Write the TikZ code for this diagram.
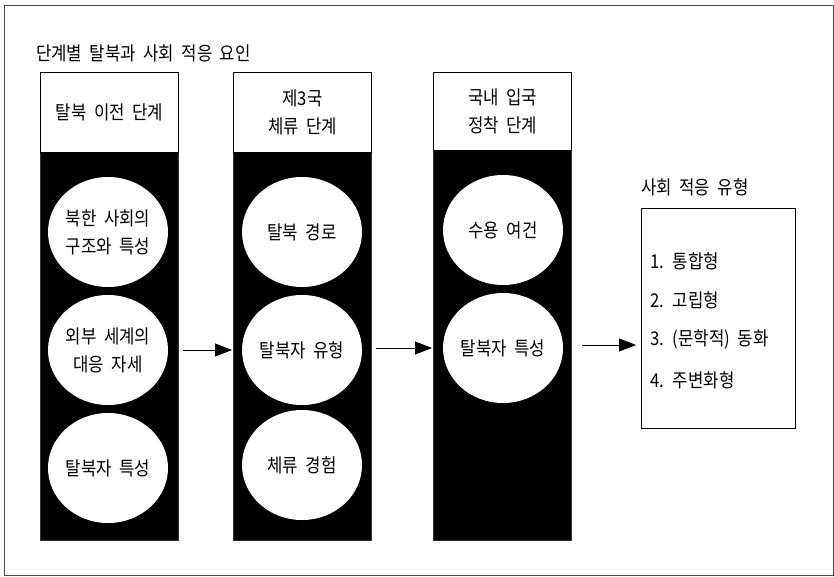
\documentclass[tikz,border=0pt]{standalone}
\usepackage{fontspec}
\setmainfont[FakeStretch=0.88, WordSpace=2]{Noto Sans CJK KR}
\usetikzlibrary{arrows.meta,shapes.geometric}
\tikzset{
  frame/.style={draw=black!70, line width=0.8pt},
  colbox/.style={fill=black, draw=black!80, line width=0.6pt, anchor=north west, minimum width=138pt, inner sep=0pt},
  headbox/.style={draw=black, fill=white, line width=1.2pt, anchor=north west, minimum width=138pt, minimum height=80pt, align=center, inner sep=0pt},
  oval/.style={ellipse, fill=white, minimum width=120pt, minimum height=110pt, inner sep=0pt, align=center},
  resbox/.style={draw=black, line width=1.2pt, anchor=north west, minimum width=154pt, minimum height=220pt, inner sep=0pt},
  arr/.style={-{Triangle[length=17pt,width=13pt]}, line width=0.8pt, shorten <=4pt, shorten >=1pt},
  txt/.style={inner sep=0pt, anchor=west}
}
\begin{document}
\begin{tikzpicture}[x=1pt,y=-1pt, font=\fontsize{19}{28}\selectfont]
\useasboundingbox (0,0) rectangle (834,576);
\draw[frame] (4,5) rectangle (833,575);
\node[txt] (title) at (36,53) {단계별 탈북과 사회 적응 요인};
% columns
\node[colbox, minimum height=388pt] (b1) at (40,152) {};
\node[colbox, minimum height=388pt] (b2) at (233,152) {};
\node[colbox, minimum height=390pt] (b3) at (433,150) {};
\node[headbox] (h1) at (40,72) {탈북 이전 단계};
\node[headbox] (h2) at (233,72) {제3국\\체류 단계};
\node[headbox, minimum height=78pt] (h3) at (433,72) {국내 입국\\정착 단계};
% ellipses
\node[oval] (e11) at (108,232) {북한 사회의\\구조와 특성};
\node[oval] (e12) at (108,350) {외부 세계의\\대응 자세};
\node[oval] (e13) at (108,468) {탈북자 특성};
\node[oval] (e21) at (302,232) {탈북 경로};
\node[oval] (e22) at (302,350) {탈북자 유형};
\node[oval] (e23) at (302,465) {체류 경험};
\node[oval] (e31) at (503,230) {수용 여건};
\node[oval] (e32) at (503,348) {탈북자 특성};
% result
\node[txt] (rtitle) at (641,187) {사회 적응 유형};
\node[resbox] (r) at (641,208) {};
\node[txt] (r1) at (650,261) {1. 통합형};
\node[txt] (r2) at (650,300) {2. 고립형};
\node[txt] (r3) at (650,339) {3. (문학적) 동화};
\node[txt] (r4) at (650,380) {4. 주변화형};
% arrows
\draw[arr] (b1.east |- e12) -- (b2.west |- e12);
\draw[arr] (b2.east |- e32) -- (b3.west |- e32);
\coordinate (a3) at (b3.east |- 0,345);
\draw[arr, shorten <=10pt, shorten >=5pt] (a3) -- (r.west |- a3);
\end{tikzpicture}
\end{document}
